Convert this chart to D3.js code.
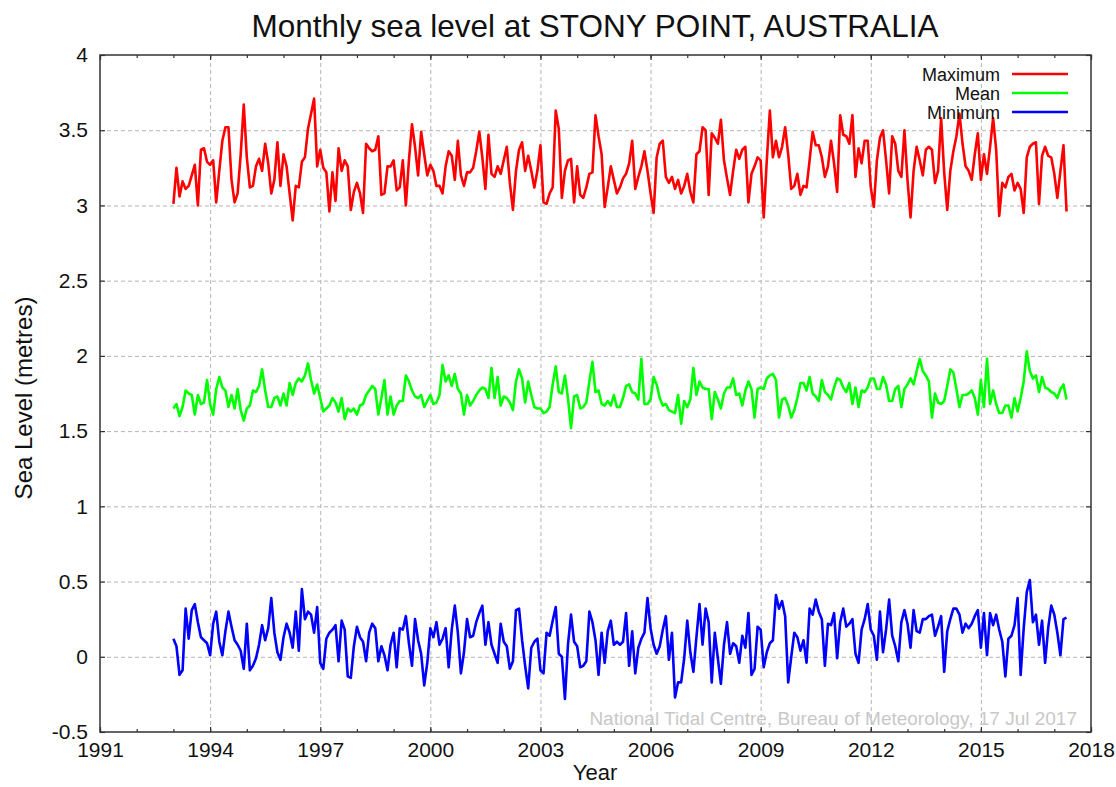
<!DOCTYPE html>
<html>
<head>
<meta charset="utf-8">
<script src="https://cdn.jsdelivr.net/npm/d3@7"></script>
<style>
body { margin: 0; background: #fff; }
svg { font-family: "Liberation Sans", Arial, sans-serif; }
</style>
</head>
<body>
<svg id="chart" width="1116" height="787"></svg>
<script>
// monthly values, first month is Jan 1993
const firstYear = 1993;

const maxLevel = [
  3.01, 3.25, 3.06, 3.16, 3.11, 3.13, 3.20, 3.27, 3.00, 3.37, 3.38, 3.29,
  3.27, 3.30, 3.02, 3.23, 3.43, 3.52, 3.52, 3.17, 3.02, 3.08, 3.34, 3.67,
  3.32, 3.12, 3.13, 3.26, 3.31, 3.23, 3.41, 3.28, 3.08, 3.17, 3.42, 3.13,
  3.34, 3.26, 3.08, 2.90, 3.13, 3.12, 3.29, 3.32, 3.51, 3.61, 3.71, 3.26,
  3.37, 3.25, 3.22, 2.96, 3.22, 3.03, 3.38, 3.23, 3.30, 3.26, 2.97, 3.09,
  3.15, 3.08, 2.95, 3.41, 3.38, 3.36, 3.37, 3.46, 3.07, 3.08, 3.26, 3.26,
  3.30, 3.10, 3.12, 3.30, 3.00, 3.30, 3.54, 3.39, 3.20, 3.49, 3.34, 3.20,
  3.27, 3.23, 3.13, 3.13, 3.08, 3.26, 3.36, 3.33, 3.17, 3.43, 3.20, 3.13,
  3.22, 3.22, 3.25, 3.36, 3.49, 3.32, 3.11, 3.47, 3.21, 3.19, 3.26, 3.21,
  3.30, 3.39, 3.15, 2.97, 3.23, 3.37, 3.42, 3.23, 3.33, 3.23, 3.12, 3.23,
  3.40, 3.02, 3.01, 3.08, 3.12, 3.63, 3.51, 3.05, 3.23, 3.30, 3.31, 3.02,
  3.26, 3.07, 3.05, 3.12, 3.21, 3.22, 3.60, 3.46, 3.34, 2.99, 3.12, 3.26,
  3.17, 3.08, 3.12, 3.18, 3.21, 3.28, 3.43, 3.11, 3.19, 3.26, 3.36, 3.23,
  3.08, 2.95, 3.32, 3.41, 3.43, 3.19, 3.15, 3.19, 3.11, 3.17, 3.08, 3.13,
  3.21, 3.09, 3.02, 3.34, 3.36, 3.52, 3.50, 3.07, 3.48, 3.45, 3.41, 3.57,
  3.30, 3.18, 3.07, 3.23, 3.37, 3.31, 3.37, 3.39, 3.02, 3.21, 3.26, 3.32,
  3.30, 2.92, 3.30, 3.63, 3.32, 3.43, 3.32, 3.39, 3.52, 3.34, 3.11, 3.13,
  3.21, 3.07, 3.13, 3.12, 3.30, 3.49, 3.40, 3.40, 3.32, 3.19, 3.26, 3.43,
  3.28, 3.09, 3.60, 3.47, 3.46, 3.41, 3.60, 3.19, 3.38, 3.28, 3.43, 3.43,
  3.12, 2.99, 3.30, 3.45, 3.50, 3.30, 3.08, 3.46, 3.41, 3.23, 3.19, 3.50,
  3.17, 2.92, 3.23, 3.39, 3.30, 3.20, 3.37, 3.39, 3.37, 3.15, 3.23, 3.58,
  3.22, 2.97, 3.23, 3.36, 3.46, 3.61, 3.41, 3.26, 3.23, 3.17, 3.34, 3.48,
  3.17, 3.34, 3.21, 3.39, 3.58, 3.37, 2.93, 3.15, 3.12, 3.19, 3.21, 3.10,
  3.15, 3.11, 2.95, 3.32, 3.39, 3.41, 3.42, 3.01, 3.33, 3.39, 3.33, 3.32,
  3.21, 3.05, 3.23, 3.40, 2.96
];

const meanLevel = [
  1.65, 1.68, 1.60, 1.66, 1.77, 1.75, 1.74, 1.61, 1.74, 1.68, 1.69, 1.84,
  1.68, 1.61, 1.78, 1.86, 1.79, 1.77, 1.66, 1.74, 1.65, 1.78, 1.64, 1.57,
  1.65, 1.67, 1.77, 1.76, 1.80, 1.91, 1.77, 1.66, 1.66, 1.72, 1.73, 1.67,
  1.75, 1.67, 1.82, 1.74, 1.82, 1.85, 1.83, 1.87, 1.95, 1.84, 1.75, 1.81,
  1.72, 1.63, 1.65, 1.67, 1.72, 1.69, 1.63, 1.72, 1.58, 1.65, 1.63, 1.65,
  1.61, 1.67, 1.68, 1.74, 1.77, 1.80, 1.78, 1.61, 1.72, 1.84, 1.61, 1.73,
  1.61, 1.67, 1.70, 1.70, 1.87, 1.83, 1.77, 1.73, 1.72, 1.74, 1.66, 1.70,
  1.74, 1.68, 1.69, 1.74, 1.94, 1.83, 1.87, 1.80, 1.88, 1.78, 1.75, 1.61,
  1.74, 1.67, 1.70, 1.74, 1.77, 1.79, 1.78, 1.72, 1.92, 1.72, 1.86, 1.67,
  1.73, 1.72, 1.69, 1.64, 1.83, 1.91, 1.85, 1.69, 1.83, 1.74, 1.66, 1.65,
  1.65, 1.62, 1.63, 1.66, 1.81, 1.93, 1.76, 1.75, 1.87, 1.72, 1.52, 1.73,
  1.74, 1.65, 1.66, 1.69, 1.83, 1.96, 1.76, 1.77, 1.68, 1.67, 1.70, 1.67,
  1.74, 1.66, 1.66, 1.72, 1.80, 1.81, 1.76, 1.75, 1.71, 1.98, 1.68, 1.68,
  1.71, 1.86, 1.81, 1.72, 1.67, 1.68, 1.64, 1.63, 1.62, 1.74, 1.55, 1.70,
  1.66, 1.71, 1.92, 1.74, 1.83, 1.79, 1.78, 1.78, 1.58, 1.76, 1.71, 1.65,
  1.75, 1.79, 1.79, 1.85, 1.74, 1.75, 1.67, 1.77, 1.83, 1.78, 1.59, 1.78,
  1.79, 1.78, 1.85, 1.87, 1.88, 1.84, 1.59, 1.71, 1.72, 1.67, 1.59, 1.64,
  1.72, 1.82, 1.82, 1.77, 1.86, 1.75, 1.73, 1.70, 1.84, 1.76, 1.74, 1.71,
  1.79, 1.85, 1.84, 1.79, 1.76, 1.82, 1.68, 1.79, 1.66, 1.77, 1.76, 1.79,
  1.85, 1.85, 1.78, 1.78, 1.86, 1.81, 1.70, 1.70, 1.78, 1.80, 1.66, 1.78,
  1.81, 1.85, 1.81, 1.90, 1.98, 1.90, 1.87, 1.83, 1.59, 1.75, 1.69, 1.68,
  1.70, 1.80, 1.91, 1.89, 1.78, 1.66, 1.74, 1.74, 1.75, 1.77, 1.72, 1.61,
  1.84, 1.66, 1.98, 1.68, 1.77, 1.68, 1.62, 1.62, 1.67, 1.67, 1.59, 1.72,
  1.63, 1.72, 1.83, 2.03, 1.90, 1.85, 1.87, 1.76, 1.86, 1.79, 1.78, 1.76,
  1.75, 1.72, 1.78, 1.81, 1.71
];

const minLevel = [
  0.12, 0.07, -0.12, -0.09, 0.32, 0.12, 0.31, 0.35, 0.23, 0.13, 0.11, 0.09,
  0.01, 0.22, 0.30, 0.10, 0.01, 0.17, 0.30, 0.20, 0.11, 0.08, 0.04, -0.08,
  0.22, -0.09, -0.06, -0.01, 0.08, 0.21, 0.11, 0.19, 0.39, 0.16, 0.03, -0.02,
  0.13, 0.22, 0.16, 0.06, 0.30, 0.04, 0.45, 0.25, 0.30, 0.28, 0.16, 0.33,
  -0.04, -0.08, 0.12, 0.16, 0.18, 0.21, -0.03, 0.24, 0.18, -0.13, -0.14, 0.07,
  0.20, 0.13, 0.10, -0.03, 0.16, 0.22, 0.19, -0.03, 0.07, 0.01, -0.09, 0.08,
  0.16, -0.07, 0.19, 0.18, 0.27, 0.09, -0.06, 0.25, 0.11, 0.02, -0.19, -0.04,
  0.19, 0.13, 0.23, 0.08, 0.12, 0.19, -0.07, 0.18, 0.34, 0.16, -0.11, 0.03,
  0.25, 0.13, 0.14, 0.23, 0.29, 0.34, 0.08, 0.23, 0.08, 0.02, -0.04, 0.22,
  0.10, 0.07, -0.08, -0.03, 0.31, 0.32, 0.11, -0.06, -0.21, 0.06, 0.10, 0.12,
  -0.09, -0.11, 0.16, 0.14, 0.24, 0.33, 0.02, 0.00, -0.28, 0.08, 0.28, 0.10,
  0.07, -0.07, -0.06, -0.03, 0.30, 0.23, 0.11, -0.12, 0.16, -0.04, 0.17, 0.24,
  0.08, 0.10, 0.08, 0.10, 0.29, -0.06, 0.17, -0.11, 0.06, 0.12, 0.16, 0.39,
  0.19, 0.08, 0.02, 0.07, 0.18, 0.27, -0.02, 0.16, -0.27, -0.17, -0.17, -0.01,
  0.24, 0.03, -0.10, 0.13, 0.35, 0.08, 0.32, 0.23, -0.17, 0.16, -0.01, -0.18,
  0.08, 0.23, 0.02, 0.09, 0.07, -0.04, 0.14, 0.06, 0.29, -0.12, -0.08, 0.20,
  0.18, -0.07, 0.03, 0.09, 0.11, 0.41, 0.32, 0.37, 0.27, -0.17, 0.00, 0.16,
  0.13, 0.04, 0.11, -0.04, 0.32, 0.28, 0.38, 0.30, 0.25, -0.06, 0.22, 0.21,
  0.29, -0.01, 0.23, 0.32, 0.20, 0.22, 0.25, 0.02, -0.04, 0.18, 0.25, 0.35,
  0.18, 0.14, -0.02, 0.30, 0.03, 0.18, 0.38, 0.14, 0.07, -0.03, 0.23, 0.31,
  0.22, 0.06, 0.31, 0.17, 0.16, 0.25, 0.25, 0.27, 0.28, 0.14, 0.20, 0.27,
  -0.10, 0.17, 0.25, 0.32, 0.32, 0.28, 0.16, 0.22, 0.19, 0.22, 0.27, 0.31,
  0.06, 0.29, 0.01, 0.29, 0.21, 0.28, 0.18, 0.10, -0.13, 0.12, 0.14, 0.21,
  0.39, -0.12, 0.19, 0.43, 0.51, 0.23, 0.28, 0.08, 0.24, -0.04, 0.19, 0.34,
  0.28, 0.16, 0.01, 0.25, 0.26
];

const seriesNames = ["Maximum", "Mean", "Minimum"];
const seriesColors = ["#ff0000", "#00ff00", "#0000ff"];
const xTicks = [1991, 1994, 1997, 2000, 2003, 2006, 2009, 2012, 2015, 2018];
const yTicks = [-0.5, 0, 0.5, 1, 1.5, 2, 2.5, 3, 3.5, 4];

let chart = d3.select("#chart");
let plotLeft = 100, plotRight = 1091, plotTop = 55, plotBottom = 732;

let xScale = d3.scaleLinear().domain([1991, 2018]).range([plotLeft, plotRight]);
let yScale = d3.scaleLinear().domain([-0.5, 4]).range([plotBottom, plotTop]);

// dashed grid
let gridX = chart.append("g")
    .attr("transform", "translate(0," + plotBottom + ")")
    .call(d3.axisBottom(xScale).tickValues(xTicks.slice(1, -1))
        .tickSize(-(plotBottom - plotTop)).tickFormat(""));
let gridY = chart.append("g")
    .attr("transform", "translate(" + plotLeft + ",0)")
    .call(d3.axisLeft(yScale).tickValues(yTicks.slice(1, -1))
        .tickSize(-(plotRight - plotLeft)).tickFormat(""));
[gridX, gridY].forEach(function(g){
    g.select(".domain").remove();
    g.selectAll("line")
        .attr("stroke", "#b4b4b4")
        .attr("stroke-width", 1)
        .attr("stroke-dasharray", "4,3");
});

// series
let line = d3.line()
    .x(function(d, i){ return xScale(firstYear + i / 12); })
    .y(function(d){ return yScale(d); });

[maxLevel, meanLevel, minLevel].forEach(function(vals, k){
    chart.append("path")
        .datum(vals)
        .attr("fill", "none")
        .attr("stroke", seriesColors[k])
        .attr("stroke-width", 2.6)
        .attr("stroke-linejoin", "round")
        .attr("d", line);
});

// axes with inward ticks
let minorYears = d3.range(1991, 2019);
function styleAxis(g){
    g.select(".domain").remove();
    g.selectAll("line").attr("stroke", "#333").attr("stroke-width", 1.2);
    g.selectAll("text").attr("fill", "#111").style("font-size", "21px")
        .style("font-family", "'Liberation Sans', Arial, sans-serif");
}

chart.append("g")
    .attr("transform", "translate(0," + plotBottom + ")")
    .call(d3.axisBottom(xScale).tickValues(minorYears).tickSize(-3).tickFormat(""))
    .call(styleAxis);
chart.append("g")
    .attr("transform", "translate(0," + plotTop + ")")
    .call(d3.axisTop(xScale).tickValues(minorYears).tickSize(-3).tickFormat(""))
    .call(styleAxis);
chart.append("g")
    .attr("transform", "translate(0," + plotBottom + ")")
    .call(d3.axisBottom(xScale).tickValues(xTicks).tickSize(-5).tickPadding(10)
        .tickFormat(function(d){ return String(d); }))
    .call(styleAxis);
chart.append("g")
    .attr("transform", "translate(0," + plotTop + ")")
    .call(d3.axisTop(xScale).tickValues(xTicks).tickSize(-5).tickFormat(""))
    .call(styleAxis);
chart.append("g")
    .attr("transform", "translate(" + plotLeft + ",0)")
    .call(d3.axisLeft(yScale).tickValues(yTicks).tickSize(-5).tickPadding(12)
        .tickFormat(function(d){ return String(d); }))
    .call(styleAxis);
chart.append("g")
    .attr("transform", "translate(" + plotRight + ",0)")
    .call(d3.axisRight(yScale).tickValues(yTicks).tickSize(-5).tickFormat(""))
    .call(styleAxis);

// frame
chart.append("rect")
    .attr("x", plotLeft).attr("y", plotTop)
    .attr("width", plotRight - plotLeft).attr("height", plotBottom - plotTop)
    .attr("fill", "none")
    .attr("stroke", "#333")
    .attr("stroke-width", 1.5);

// legend
seriesNames.forEach(function(name, k){
    let ly = 74 + k * 19;
    chart.append("text")
        .attr("x", 1000).attr("y", ly + 7)
        .style("text-anchor", "end")
        .style("font-size", "18px")
        .attr("fill", "#111")
        .text(name);
    chart.append("line")
        .attr("x1", 1012).attr("x2", 1068)
        .attr("y1", ly).attr("y2", ly)
        .attr("stroke", seriesColors[k])
        .attr("stroke-width", 2.6);
});

// titles
chart.append("text")
    .attr("x", 595).attr("y", 37)
    .style("text-anchor", "middle")
    .style("font-size", "31.5px")
    .attr("fill", "#111")
    .text("Monthly sea level at STONY POINT, AUSTRALIA");

chart.append("text")
    .attr("x", 595).attr("y", 780)
    .style("text-anchor", "middle")
    .style("font-size", "22px")
    .attr("fill", "#111")
    .text("Year");

chart.append("text")
    .attr("transform", "rotate(-90)")
    .attr("x", -398).attr("y", 32)
    .style("text-anchor", "middle")
    .style("font-size", "24px")
    .attr("fill", "#111")
    .text("Sea Level (metres)");

chart.append("text")
    .attr("x", 1077).attr("y", 725)
    .style("text-anchor", "end")
    .style("font-size", "19px")
    .attr("fill", "#c8c8c8")
    .text("National Tidal Centre, Bureau of Meteorology, 17 Jul 2017");
</script>
</body>
</html>
